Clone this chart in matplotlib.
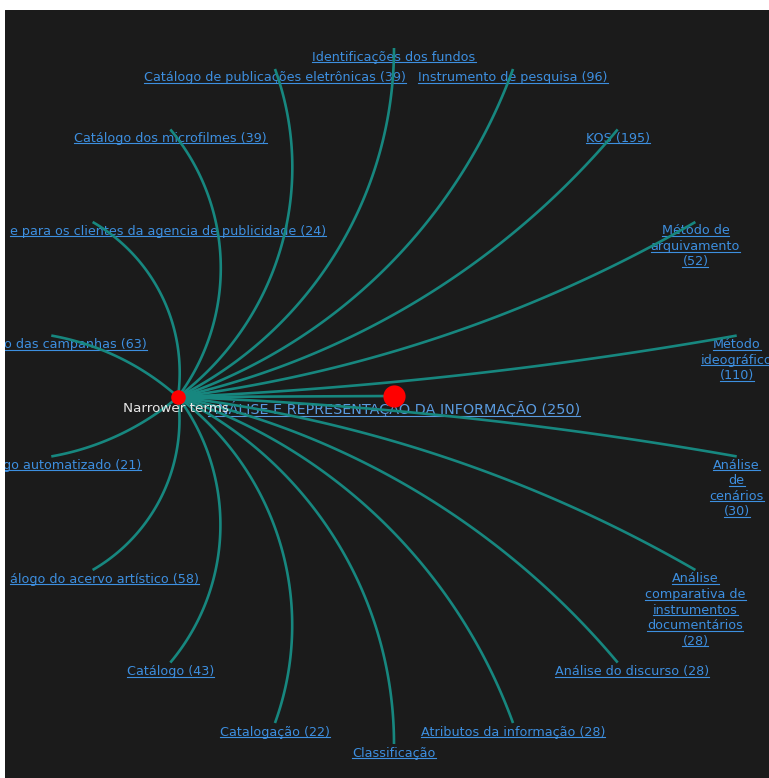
import numpy as np
import matplotlib.pyplot as plt

# ------------------------------------------------
# data: root term, grouping node and its narrower terms (clockwise from top)
# ------------------------------------------------
root_term = 'ANÁLISE E REPRESENTAÇÃO DA INFORMAÇÃO'
root_count = 250
hub_label = 'Narrower terms'

terms = ['Identificações dos fundos', 'Instrumento de pesquisa', 'KOS',
         'Método de\narquivamento', 'Método\nideográfico', 'Análise\nde\ncenários',
         'Análise\ncomparativa de\ninstrumentos\ndocumentários', 'Análise do discurso',
         'Atributos da informação', 'Classificação', 'Catalogação', 'Catálogo',
         'álogo do acervo artístico', 'go automatizado', 'o das campanhas',
         'e para os clientes da agencia de publicidade', 'Catálogo dos microfilmes',
         'Catálogo de publicações eletrônicas']
counts = [None, 96, 195, 52, 110, 30, 28, 28, 28, None, 22, 43, 58, 21, 63, 24, 39, 39]

# labels cut by the left border: right edge of the visible text (px)
cut_right = {12: 199, 13: 141, 14: 147, 15: 326}
# small horizontal nudges of a few labels (px)
label_dx = {7: 14}

# ------------------------------------------------
# layout (pixels)
# ------------------------------------------------
W, H = 769, 778
root_xy = np.array([394.0, 396.0])
hub_xy = np.array([178.0, 397.0])
radius = 348
angles = np.radians(90 - 20 * np.arange(len(terms)))

bg = '#1b1b1b'
teal = '#17877f'
link_blue = '#3d8fe0'
red = '#ff0000'
fs = 9.2


def label_text(term, n):
    if n is None:
        return term
    if '\n' in term:
        return term + '\n(' + str(n) + ')'
    return term + ' (' + str(n) + ')'


def arc_points(p0, p1, u, n=120):
    # circle through p0 and p1 whose tangent at p1 is the radial direction u
    d = p1 - p0
    nrm = np.array([-u[1], u[0]])
    den = 2 * np.dot(nrm, d)
    if abs(den) < 1e-6:
        t = np.linspace(0, 1, n)
        return p0[0] + d[0] * t, p0[1] + d[1] * t
    s = -np.dot(d, d) / den
    c = p1 + s * nrm
    a0 = np.arctan2(p0[1] - c[1], p0[0] - c[0])
    a1 = np.arctan2(p1[1] - c[1], p1[0] - c[0])
    if np.dot([-np.sin(a1), np.cos(a1)], u) > 0:
        while a1 < a0:
            a1 += 2 * np.pi
    else:
        while a1 > a0:
            a1 -= 2 * np.pi
    t = np.linspace(a0, a1, n)
    return c[0] + abs(s) * np.cos(t), c[1] + abs(s) * np.sin(t)


fig = plt.figure(figsize=(W / 100, H / 100), dpi=100, facecolor='white')
ax = fig.add_axes([5 / W, 0, (W - 5) / W, (H - 10) / H])
ax.set_facecolor(bg)
ax.set_xlim(5, W)
ax.set_ylim(H, 10)
ax.axis('off')
ax.add_patch(plt.Rectangle((5, 10), W - 5, H - 10, color=bg, zorder=0))

texts = []

# labels of the narrower terms
for i, (term, n) in enumerate(zip(terms, counts)):
    u = np.array([np.cos(angles[i]), -np.sin(angles[i])])
    leaf = root_xy + radius * u
    lines = label_text(term, n).split('\n')
    for j, ln in enumerate(lines):
        y = leaf[1] + 9 + 15.5 * j
        if i in cut_right:
            t = ax.text(cut_right[i], y, ln, ha='right', va='center',
                        color=link_blue, fontsize=fs, zorder=2, clip_on=True)
        else:
            t = ax.text(leaf[0] + label_dx.get(i, 0), y, ln, ha='center', va='center',
                        color=link_blue, fontsize=fs, zorder=2, clip_on=True)
        texts.append(t)

    # link from the grouping node
    xs, ys = arc_points(hub_xy, leaf, u)
    ax.plot(xs, ys, color=teal, lw=1.9, zorder=3, solid_capstyle='butt')

# root label
t = ax.text(root_xy[0], root_xy[1] + 13, label_text(root_term, root_count), ha='center',
            va='center', color='#5a9be0', fontsize=10.4, zorder=2, clip_on=True)
texts.append(t)

# link hub -> root
ax.plot([hub_xy[0], root_xy[0]], [hub_xy[1], root_xy[1]], color=teal, lw=1.9, zorder=3)

# nodes
ax.plot(root_xy[0], root_xy[1], 'o', ms=16, color=red, mec='none', zorder=4)
ax.plot(hub_xy[0], hub_xy[1], 'o', ms=10.5, color=red, mec='none', zorder=4)
ax.text(hub_xy[0] - 2, hub_xy[1] + 12, hub_label, ha='center', va='center',
        color='#e6e6e6', fontsize=9.7, zorder=5)

# underline the link labels
fig.canvas.draw()
r = fig.canvas.get_renderer()
inv = ax.transData.inverted()
for t in texts:
    bb = t.get_window_extent(r)
    (x0, yb), (x1, yt) = inv.transform([[bb.x0, bb.y0], [bb.x1, bb.y1]])
    ax.plot([x0, x1], [yb - 1.5, yb - 1.5], color=t.get_color(), lw=0.8, zorder=2)

fig.savefig('out.png', dpi=100, facecolor='white')
